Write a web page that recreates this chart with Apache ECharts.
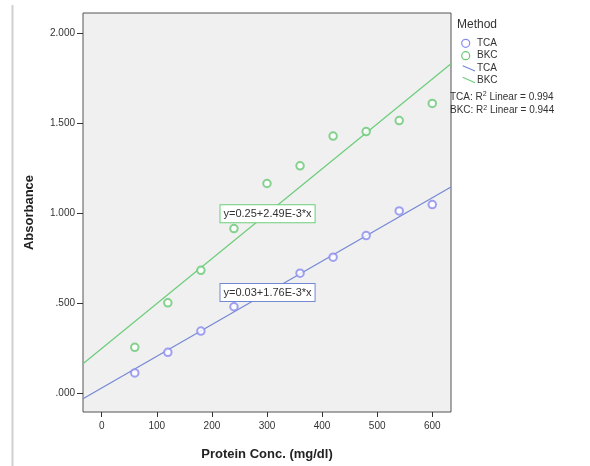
<!DOCTYPE html>
<html>
<head>
<meta charset="utf-8">
<script src="https://cdn.jsdelivr.net/npm/echarts@6/dist/echarts.min.js"></script>
<style>
  html, body { margin: 0; padding: 0; background: #fff; }
  #main { width: 590px; height: 466px; }
</style>
</head>
<body>
<div id="main"></div>
<script>
// protein concentration (mg/dl)
var conc = [60, 120, 180, 240, 300, 360, 420, 480, 540, 600];
// absorbance readings
var tca = [0.114, 0.228, 0.346, 0.481, 0.58, 0.667, 0.756, 0.876, 1.013, 1.048];
var bkc = [0.256, 0.503, 0.683, 0.915, 1.165, 1.263, 1.428, 1.453, 1.514, 1.609];
// fit line end points
var tcaFit = [[-34, -0.03], [634, 1.146]];
var bkcFit = [[-34, 0.165], [634, 1.829]];
var tcaEq = 'y=0.03+1.76E-3*x';
var bkcEq = 'y=0.25+2.49E-3*x';
var xTicks = [0, 100, 200, 300, 400, 500, 600];
var yTicks = [0, 0.5, 1, 1.5, 2];
var r2Text = ['TCA: R{s|2} Linear = 0.994', 'BKC: R{s|2} Linear = 0.944'];

var blueLine = '#7488d4', greenLine = '#6ccd7a';
var blueDot = '#8a8af0', greenDot = '#66c873';
var font = 'Liberation Sans, Arial, sans-serif';

function pts(ys) {
    var d = [];
    for (var i = 0; i < conc.length; i++) d.push([conc[i], ys[i]]);
    return d;
}

var chart = echarts.init(document.getElementById('main'));

var option = {
    backgroundColor: '#fff',
    animation: false,
    textStyle: { fontFamily: font },
    grid: {
        left: 83, top: 13, right: 139, bottom: 54,
        show: true,
        backgroundColor: '#f0f0f0',
        borderColor: '#555',
        borderWidth: 1
    },
    xAxis: {
        type: 'value',
        min: -34, max: 634,
        name: 'Protein Conc. (mg/dl)',
        nameLocation: 'middle',
        nameGap: 36,
        nameTextStyle: { fontSize: 13, fontWeight: 'bold', color: '#222', fontFamily: font },
        axisLine: { show: false, onZero: false },
        axisTick: { show: true, length: 5, customValues: xTicks, lineStyle: { color: '#333', width: 1 } },
        axisLabel: { customValues: xTicks, margin: 9, fontSize: 10, color: '#333', fontFamily: font },
        splitLine: { show: false }
    },
    yAxis: {
        type: 'value',
        min: -0.103, max: 2.111,
        name: 'Absorbance',
        nameLocation: 'middle',
        nameGap: 47,
        nameTextStyle: { fontSize: 13, fontWeight: 'bold', color: '#222', fontFamily: font },
        axisLine: { show: false, onZero: false },
        axisTick: { show: true, length: 6, customValues: yTicks, lineStyle: { color: '#333', width: 1 } },
        axisLabel: {
            customValues: yTicks, margin: 8, fontSize: 10, color: '#333', fontFamily: font,
            formatter: function (v) {
                var s = v.toFixed(3);
                return s.charAt(0) === '0' ? s.substring(1) : s;
            }
        },
        splitLine: { show: false }
    },
    series: [
        {
            name: 'TCA fit', type: 'line', data: tcaFit, symbol: 'none',
            lineStyle: { color: blueLine, width: 1.2 }, z: 2,
            markPoint: {
                symbol: 'rect', symbolSize: 0,
                data: [{ coord: [301, 0.56] }],
                label: {
                    show: true, position: 'inside', formatter: tcaEq,
                    fontSize: 11, color: '#333', fontFamily: font,
                    backgroundColor: '#fff', borderColor: blueLine, borderWidth: 1,
                    padding: [3, 3, 3, 3]
                }
            }
        },
        {
            name: 'BKC fit', type: 'line', data: bkcFit, symbol: 'none',
            lineStyle: { color: greenLine, width: 1.2 }, z: 2,
            markPoint: {
                symbol: 'rect', symbolSize: 0,
                data: [{ coord: [301, 0.997] }],
                label: {
                    show: true, position: 'inside', formatter: bkcEq,
                    fontSize: 11, color: '#333', fontFamily: font,
                    backgroundColor: '#fff', borderColor: greenLine, borderWidth: 1,
                    padding: [3, 3, 3, 3]
                }
            }
        },
        {
            name: 'TCA', type: 'scatter', data: pts(tca), symbol: 'emptyCircle', symbolSize: 7.5,
            itemStyle: { color: blueDot, borderColor: blueDot, borderWidth: 1 }, z: 3
        },
        {
            name: 'BKC', type: 'scatter', data: pts(bkc), symbol: 'emptyCircle', symbolSize: 7.5,
            itemStyle: { color: greenDot, borderColor: greenDot, borderWidth: 1 }, z: 3
        }
    ],
    graphic: [
        { type: 'line', shape: { x1: 12.5, y1: 5, x2: 12.5, y2: 466 }, style: { stroke: '#d0d0d0', lineWidth: 2 } },
        { type: 'text', left: 457, top: 19, style: { text: 'Method', font: '12px ' + font, fill: '#333' } },
        { type: 'circle', shape: { cx: 465.7, cy: 43.3, r: 4 }, style: { fill: 'none', stroke: blueDot, lineWidth: 1.2 } },
        { type: 'text', left: 477, top: 38, style: { text: 'TCA', font: '10px ' + font, fill: '#333' } },
        { type: 'circle', shape: { cx: 465.7, cy: 55.7, r: 4 }, style: { fill: 'none', stroke: greenDot, lineWidth: 1.2 } },
        { type: 'text', left: 477, top: 50.5, style: { text: 'BKC', font: '10px ' + font, fill: '#333' } },
        { type: 'line', shape: { x1: 462.7, y1: 65.7, x2: 475, y2: 71 }, style: { stroke: blueLine, lineWidth: 1.2 } },
        { type: 'text', left: 477, top: 63.5, style: { text: 'TCA', font: '10px ' + font, fill: '#333' } },
        { type: 'line', shape: { x1: 462.7, y1: 77.3, x2: 475, y2: 82.7 }, style: { stroke: greenLine, lineWidth: 1.2 } },
        { type: 'text', left: 477, top: 75.5, style: { text: 'BKC', font: '10px ' + font, fill: '#333' } },
        {
            type: 'text', left: 450, top: 91,
            style: {
                text: r2Text[0], font: '10px ' + font, fill: '#333',
                rich: { s: { fontSize: 7, verticalAlign: 'top', padding: [0, 0, 5, 0], fill: '#333' } }
            }
        },
        {
            type: 'text', left: 450, top: 104.5,
            style: {
                text: r2Text[1], font: '10px ' + font, fill: '#333',
                rich: { s: { fontSize: 7, verticalAlign: 'top', padding: [0, 0, 5, 0], fill: '#333' } }
            }
        }
    ]
};

chart.setOption(option);
</script>
</body>
</html>
